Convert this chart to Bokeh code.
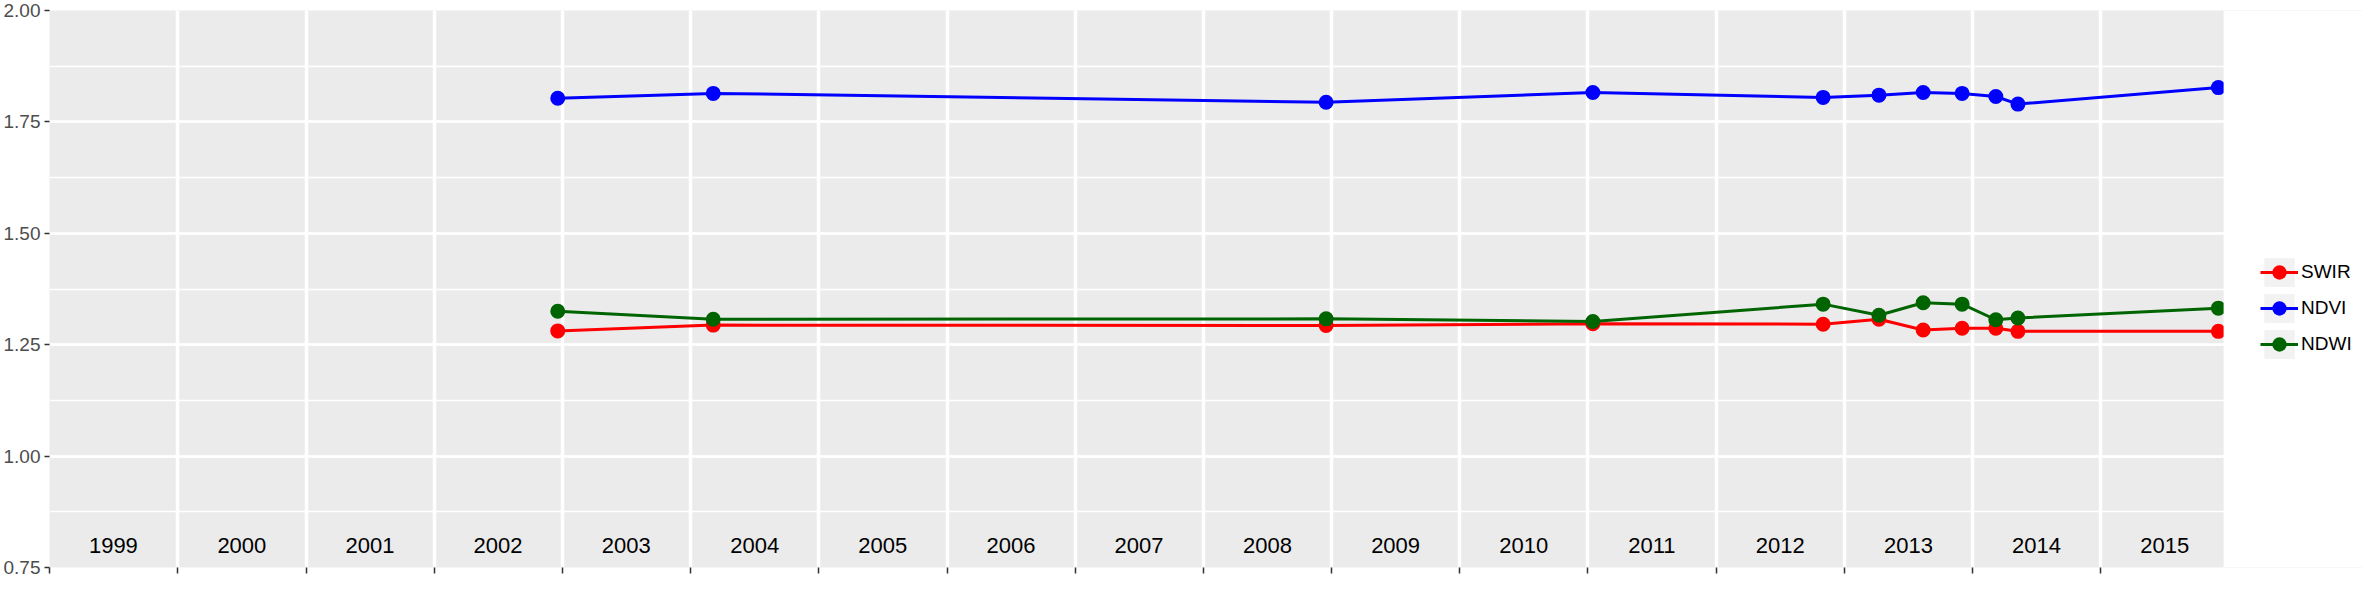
import pandas as pd
from bokeh.plotting import figure
from bokeh.models import (Range1d, FixedTicker, SingleIntervalTicker, PrintfTickFormatter,
                          Legend, LegendItem, ColumnDataSource)
from bokeh.core.properties import value
from bokeh.embed import file_html
from bokeh.resources import INLINE

# ---- data ----
dates = ["2002-12-19", "2004-03-06", "2008-12-16", "2011-01-15", "2012-11-01",
         "2013-04-09", "2013-08-13", "2013-12-02", "2014-03-08", "2014-05-10", "2015-12-02"]
swir = [1.281, 1.294, 1.293, 1.297, 1.296, 1.307, 1.283, 1.287, 1.287, 1.280, 1.280]
ndvi = [1.803, 1.814, 1.794, 1.816, 1.805, 1.810, 1.816, 1.814, 1.807, 1.790, 1.827]
ndwi = [1.325, 1.307, 1.308, 1.302, 1.341, 1.316, 1.344, 1.341, 1.306, 1.310, 1.332]
series_names = ["SWIR", "NDVI", "NDWI"]
series_colors = ["#FF0000", "#0000FF", "#006400"]
years = list(range(1999, 2016))
year_labels = [str(y) for y in years]

x = pd.to_datetime(dates)
x_start = pd.Timestamp("1999-01-01")
x_end = pd.Timestamp("2015-12-17")

W, H = 2362, 577
LEFT = 47
PANEL_W = 2176            # width of the grey panel in px
FRAME_W = W - LEFT        # frame extends under the legend area
x_max = x_start + (x_end - x_start) * (FRAME_W / PANEL_W)

def ms(ts):
    return ts.timestamp() * 1000.0

year_starts = [ms(pd.Timestamp(f"{y}-01-01")) for y in years]
year_mids = pd.to_datetime([f"{y}-07-02" for y in years])

p = figure(width=W, height=H, x_axis_type="datetime",
           x_range=Range1d(x_start, x_max), y_range=Range1d(0.75, 2.0),
           output_backend="svg", toolbar_location=None,
           min_border_left=LEFT, min_border_right=0, min_border_top=10, min_border_bottom=10)
p.background_fill_color = "#EBEBEB"
p.border_fill_color = "white"
p.outline_line_color = None

# axes
p.xaxis.ticker = FixedTicker(ticks=year_starts)
p.xaxis.major_label_overrides = {t: "" for t in year_starts}
p.xaxis.major_label_text_font_size = "0px"
p.xaxis.major_label_standoff = 0
p.xaxis.axis_line_color = None
p.xaxis.major_tick_in = 0
p.xaxis.major_tick_out = 6
p.xaxis.major_tick_line_color = "#333333"
p.xaxis.major_tick_line_width = 1.5
p.xaxis.minor_tick_line_color = None

p.yaxis.ticker = SingleIntervalTicker(interval=0.25, num_minor_ticks=2)
p.yaxis.formatter = PrintfTickFormatter(format="%.2f")
p.yaxis.axis_line_color = None
p.yaxis.major_tick_in = 0
p.yaxis.major_tick_out = 5
p.yaxis.major_tick_line_color = "#333333"
p.yaxis.major_tick_line_width = 1.5
p.yaxis.minor_tick_line_color = None
p.yaxis.major_label_standoff = 4
p.yaxis.major_label_text_font = "Liberation Sans"
p.yaxis.major_label_text_font_size = "19px"
p.yaxis.major_label_text_color = "#4D4D4D"

# grids
p.xgrid.ticker = FixedTicker(ticks=year_starts[1:])
p.xgrid.grid_line_color = "white"
p.xgrid.grid_line_width = 3.5
p.ygrid.grid_line_color = "white"
p.ygrid.grid_line_width = 2.5
p.ygrid.minor_grid_line_color = "white"
p.ygrid.minor_grid_line_width = 1.4

# year labels inside panel
p.text(x=year_mids, y=[0.8] * len(years), text=year_labels,
       text_font=value("Liberation Sans"), text_font_size="22px",
       text_color="black", text_align="center", text_baseline="middle")

# legend key background helper (off-range)
bg = p.quad(left=[x_start], right=[x_start], bottom=[0.0], top=[0.1],
            fill_color="#F2F2F2", line_color=None)

items = []
for name, vals, col in zip(series_names, [swir, ndvi, ndwi], series_colors):
    src = ColumnDataSource(dict(x=x, y=vals))
    ln = p.line("x", "y", source=src, line_color=col, line_width=3)
    sc = p.scatter("x", "y", source=src, size=15, fill_color=col, line_color=None)
    items.append(LegendItem(label=name, renderers=[bg, ln, sc]))

# white area right of the panel (legend area)
p.quad(left=[x_end], right=[x_max], bottom=[0.75], top=[2.0],
       fill_color="white", line_color=None)

legend = Legend(items=items, location=(2211, 205), glyph_width=38, glyph_height=36,
                spacing=0, label_standoff=3, padding=0, margin=0,
                border_line_color=None, background_fill_alpha=0,
                label_text_font="Liberation Sans", label_text_font_size="19px",
                label_text_color="black")
p.add_layout(legend)

open("out.html", "w").write(file_html(p, INLINE))
